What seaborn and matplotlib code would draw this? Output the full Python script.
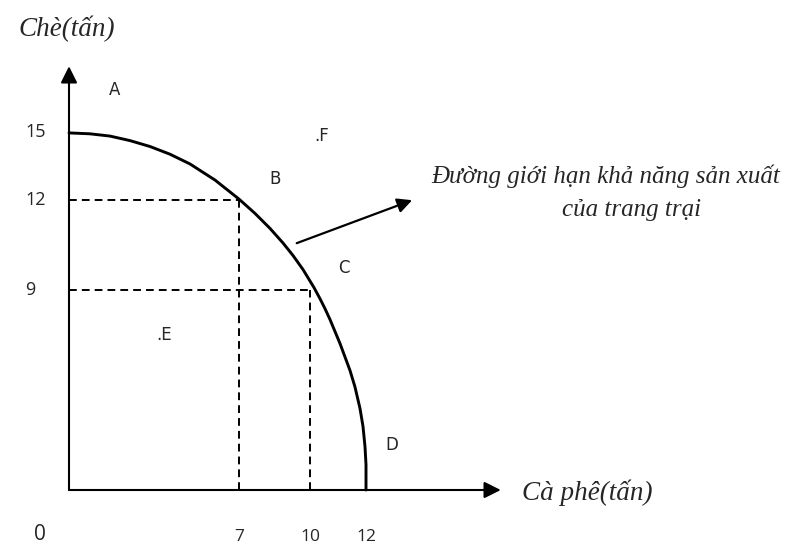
import numpy as np
import seaborn as sns
from matplotlib import pyplot as plt

# production possibility frontier of the farm
# x = coffee (tonnes), y = tea (tonnes)
curve_cafe = [0, 0.865, 1.688, 2.512, 3.335, 4.159, 4.982, 6.012, 7.0, 7.676,
              8.31, 8.859, 9.282, 9.704, 10.143, 10.357, 10.536, 10.714,
              11.071, 11.429, 11.607, 11.786, 11.893, 11.964, 12.0, 12.0]
curve_che = [14.96, 14.92, 14.82, 14.62, 14.36, 14.02, 13.59, 12.88, 12.04, 11.553,
             11.053, 10.567, 10.15, 9.683, 9.08, 8.609, 8.159, 7.673,
             6.593, 5.378, 4.635, 3.668, 2.858, 1.958, 1.148, 0]

# the two marked points on the frontier
mark_cafe = [7, 10]
mark_che = [12, 9]

x_ticks = [7, 10, 12]
y_ticks = [15, 12, 9]

# the hand-drawn axes are not to scale: spacing of the sketch (in px)
x_knots, x_pos = [-10, 0, 7, 10, 12, 40], [-243, 0, 170, 241, 297, 983]
y_knots, y_pos = [-10, 0, 9, 12, 15, 30], [-222, 0, 200, 290, 358, 698]

def fx(v):
    return np.interp(v, x_knots, x_pos)

def ix(v):
    return np.interp(v, x_pos, x_knots)

def fy(v):
    return np.interp(v, y_knots, y_pos)

def iy(v):
    return np.interp(v, y_pos, y_knots)


sns.set_theme(style="white")
serif = dict(family="Liberation Serif", style="italic", size=18)
title = dict(family="Liberation Serif", style="italic", size=19.5)
sans = dict(family="DejaVu Sans", size=12)
digits = dict(family="Open Sans", size=13)

fig = plt.figure(figsize=(7.85, 5.44), dpi=100)
ax = fig.add_axes([0, 0, 1, 1])
ax.set_xscale("function", functions=(fx, ix))
ax.set_yscale("function", functions=(fy, iy))

sns.lineplot(x=curve_cafe, y=curve_che, ax=ax, color="black", lw=2.1,
             sort=False, estimator=None)

# dashed guides to the marked points
ax.hlines(mark_che, 0, mark_cafe, colors="black", lw=1.4, linestyles=(0, (4, 2.6)))
ax.vlines(mark_cafe, 0, mark_che, colors="black", lw=1.4, linestyles=(0, (4, 2.6)))

ax.set_xlim(ix(-69), ix(716))
ax.set_ylim(iy(-54), iy(490))
ax.axis("off")

# axes with arrow heads
arrow = dict(arrowstyle="-|>", color="black", lw=1.5, mutation_scale=25,
             shrinkA=0, shrinkB=0)
ax.annotate("", xy=(17.5, 0), xytext=(0, 0), arrowprops=arrow)
ax.annotate("", xy=(0, 17.9), xytext=(0, 0), arrowprops=arrow)

# tick labels
for v in y_ticks:
    ax.text(0.032, v, str(v), transform=ax.get_yaxis_transform(),
            ha="left", va="center", **digits)
for v in x_ticks:
    ax.text(v, 0.012, str(v), transform=ax.get_xaxis_transform(),
            ha="center", va="center", family="Open Sans", size=12.5)
ax.text(0.051, 0.017, "0", transform=ax.transAxes, ha="center", va="center",
        family="Open Sans", size=15)

# axis titles
ax.text(0.023, 0.947, "Chè(tấn)", transform=ax.transAxes, ha="left", va="center", **title)
ax.text(0.665, 0.094, "Cà phê(tấn)", transform=ax.transAxes, ha="left", va="center", **title)

# point labels
ax.text(0.146, 0.835, "A", transform=ax.transAxes, ha="center", va="center", **sans)
ax.text(0.410, 0.750, ".F", transform=ax.transAxes, ha="center", va="center", **sans)
ax.text(0.350, 0.671, "B", transform=ax.transAxes, ha="center", va="center", **sans)
ax.text(0.438, 0.507, "C", transform=ax.transAxes, ha="center", va="center", **sans)
ax.text(0.209, 0.384, ".E", transform=ax.transAxes, ha="center", va="center", **sans)
ax.text(0.499, 0.182, "D", transform=ax.transAxes, ha="center", va="center", **sans)

# callout for the frontier
ax.annotate("", xy=(0.525, 0.632), xytext=(0.378, 0.553), xycoords="axes fraction",
            textcoords="axes fraction",
            arrowprops=dict(arrowstyle="-|>", color="black", lw=1.6,
                            mutation_scale=22, shrinkA=0, shrinkB=0))
ax.text(0.772, 0.676, "Đường giới hạn khả năng sản xuất", transform=ax.transAxes,
        ha="center", va="center", **serif)
ax.text(0.804, 0.614, "của trang trại", transform=ax.transAxes,
        ha="center", va="center", **serif)

plt.savefig("out.png", dpi=100)
